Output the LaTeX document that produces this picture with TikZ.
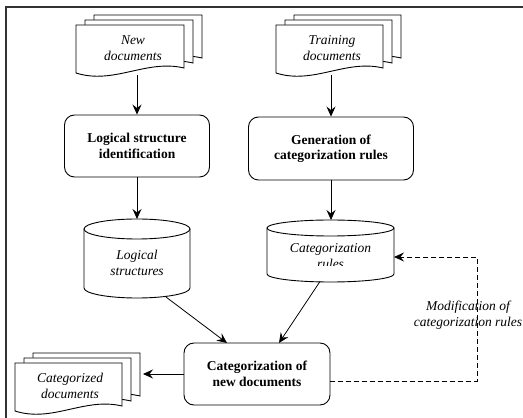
\documentclass[tikz,border=0pt]{standalone}
\usepackage{fontspec}
\setmainfont{Liberation Serif}
\usetikzlibrary{arrows.meta}
\tikzset{
  shapeline/.style={draw=black, line width=0.9pt, fill=white},
  procbox/.style={draw=black, line width=0.9pt, rounded corners=10pt, align=center,
    font=\fontsize{13.5}{15.5}\selectfont\bfseries, inner sep=0pt},
  itext/.style={align=center, font=\fontsize{13.5}{15.5}\selectfont\itshape, inner sep=0pt},
  arr/.style={line width=0.8pt, -{Stealth[length=10pt,width=9pt,inset=3.5pt]}},
  darr/.style={arr, dash pattern=on 5pt off 3pt},
}
% x0 x1 ytop ybotleft
\newcommand\mydoc[4]{%
  \filldraw[shapeline] ({#1},{#3}) -- ({#2},{#3}) -- ({#2},{(#4)+5})
    .. controls ({(#1)+0.65*((#2)-(#1))},{(#4)+14}) and ({(#1)+0.35*((#2)-(#1))},{(#4)-12}) .. ({#1},{#4}) -- cycle;}
\newcommand\mystack[4]{%
  \mydoc{(#1)+18}{(#2)+18}{(#3)+10}{(#4)+10}%
  \mydoc{(#1)+9}{(#2)+9}{(#3)+5}{(#4)+5}%
  \mydoc{#1}{#2}{#3}{#4}}
\begin{document}
\begin{tikzpicture}[x=1pt,y=1pt]
\useasboundingbox (0,0) rectangle (523,418);
% frame
\draw[line width=1.2pt, black!80] (6,-5) -- (6,411) -- (530,411);

% document stacks
\mystack{76}{184}{393}{345}
\mystack{276}{383}{393}{345}
\mystack{15}{122}{55}{7}
\node[itext] (ndt) at (133,370) {New\\documents};
\node[itext] (tdt) at (332,370) {Training\\documents};
\node[itext] (cdt) at (70,32) {Categorized\\documents};

% process boxes
\node[procbox, minimum width=145pt, minimum height=62pt] (logic) at (137,272) {Logical structure\\identification};
\node[procbox, minimum width=165pt, minimum height=63pt] (gen) at (331,269.5) {Generation of\\categorization rules};
\node[procbox, minimum width=146pt, minimum height=62pt] (cat) at (257,44) {Categorization of\\new documents};

% logical structures cylinder
\filldraw[shapeline] (84,189) -- (84,130) arc[start angle=180, end angle=360, x radius=53pt, y radius=10pt] -- (190,189);
\draw[shapeline] (137,189) ellipse [x radius=53pt, y radius=10pt];
\node[itext] (lct) at (137,155) {Logical\\structures};

% categorization rules cylinder
\filldraw[shapeline] (267,190) -- (267,144) arc[start angle=180, end angle=360, x radius=63.5pt, y radius=8pt] -- (394,190);
\draw[shapeline] (330.5,190) ellipse [x radius=63.5pt, y radius=8pt];
\begin{scope}
  \clip (267,152.5) rectangle (394,185);
  \node[itext] (rct) at (330.5,162) {Categorization\\rules};
\end{scope}

% connector end points
\coordinate (ndb) at (137,343);
\coordinate (tdb) at (331,343);
\coordinate (lctop) at (137,199);
\coordinate (rctop) at (331,198);
\coordinate (lcb) at (166,121);
\coordinate (cin1) at (227,75);
\coordinate (rcb) at (320,136.5);
\coordinate (cin2) at (279,75);
\coordinate (cdr) at (143,44);
\coordinate (rcr) at (394,161);

\draw[arr] (ndb) -- (logic.north);
\draw[arr] (tdb) -- (gen.north);
\draw[arr] (logic.south) -- (lctop);
\draw[arr] (gen.south) -- (rctop);
\draw[arr] (lcb) -- (cin1);
\draw[arr] (rcb) -- (cin2);
\draw[arr] (cat.west) -- (cdr);
\draw[darr] ([yshift=-7pt]cat.east) -- ++(147,0) |- (rcr);

\node[itext] (mod) at (468,103) {Modification of\\categorization rules};
\end{tikzpicture}
\end{document}
